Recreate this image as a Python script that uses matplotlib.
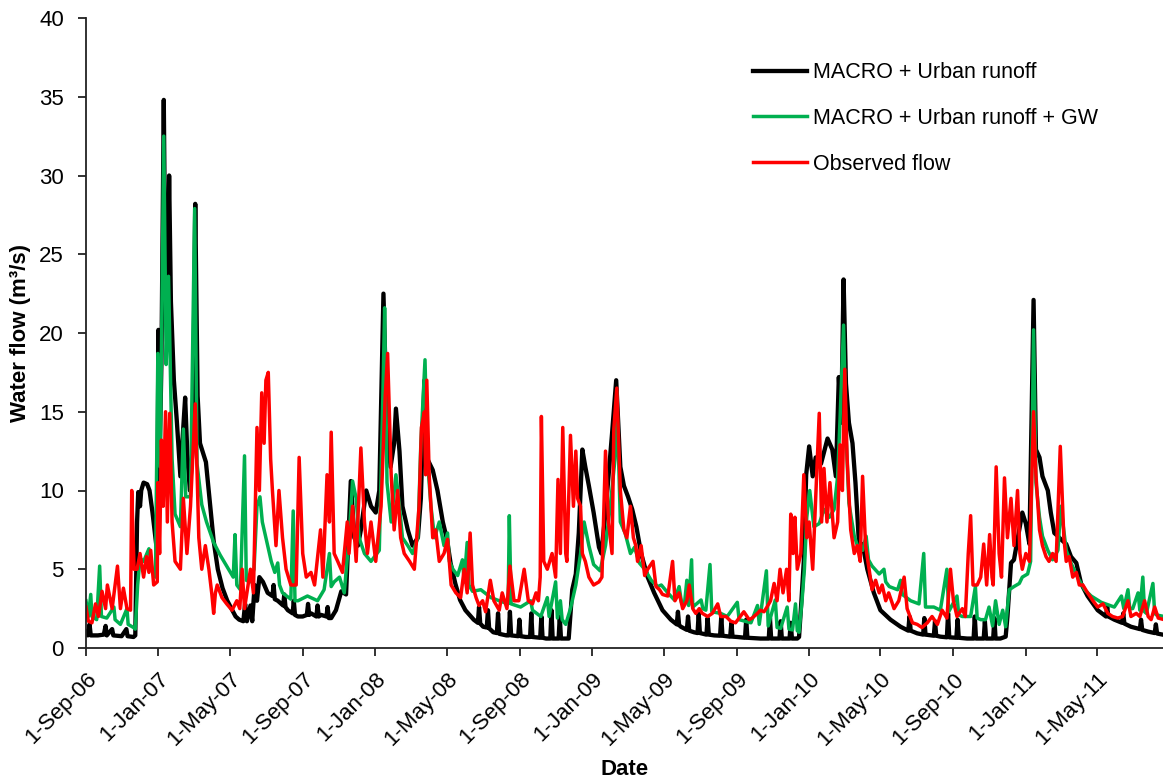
import numpy as np
import matplotlib
matplotlib.use("Agg")
import matplotlib.pyplot as plt
import matplotlib.dates as mdates
from matplotlib.ticker import FuncFormatter

plt.rcParams['font.family'] = ['Liberation Sans', 'DejaVu Sans']

START = np.datetime64('2006-09-01')
END_DAY = 1814  # last day shown, counted from 1-Sep-06

# (days since 1-Sep-06, flow m3/s)
macro_urban = [
    (0, 1.0), (3, 0.8), (6, 1.5), (8, 0.8), (20, 0.8), (30, 0.85), (33, 1.4), (35, 0.8), (44, 1.2),
    (46, 0.8), (60, 0.75), (68, 1.2), (70, 0.75), (80, 0.7), (83, 0.8), (86, 8.0), (88, 9.9), (91, 9.0),
    (93, 10.0), (97, 10.5), (103, 10.4), (107, 10.0), (112, 8.6), (117, 7.0), (120, 6.0), (122, 20.2),
    (124, 12.0), (127, 18.0), (131, 34.8), (134, 22.0), (137, 20.0), (140, 30.0), (143, 22.0), (148, 17.0),
    (153, 14.4), (159, 10.9), (163, 13.5), (167, 15.9), (171, 12.0), (175, 10.0), (180, 13.0), (184, 28.2),
    (188, 16.0), (192, 13.0), (197, 12.4), (202, 11.8), (208, 9.5), (215, 6.8), (222, 5.0), (230, 3.8),
    (238, 3.0), (245, 2.5), (252, 2.0), (258, 1.8), (265, 1.7), (268, 2.8), (271, 1.7), (277, 2.7),
    (280, 1.7), (284, 4.0), (288, 3.0), (292, 4.5), (298, 4.2), (306, 3.5), (314, 3.3), (316, 4.0),
    (318, 3.1), (323, 3.0), (332, 2.7), (334, 3.4), (336, 2.6), (340, 2.4), (348, 2.2), (350, 3.0),
    (352, 2.1), (357, 2.0), (365, 2.0), (372, 2.1), (374, 2.8), (376, 2.1), (379, 2.2), (388, 2.0),
    (390, 2.7), (392, 2.0), (396, 2.1), (405, 2.0), (407, 2.6), (409, 1.9), (413, 1.9), (421, 2.4),
    (430, 3.6), (438, 3.4), (446, 10.6), (452, 7.0), (458, 6.5), (463, 7.5), (472, 10.0), (480, 9.0),
    (488, 8.6), (494, 10.0), (501, 22.5), (507, 14.0), (513, 11.5), (519, 13.0), (522, 15.2), (528, 12.5),
    (533, 9.0), (542, 7.5), (550, 6.5), (559, 7.0), (564, 9.5), (570, 17.0), (575, 12.0), (584, 11.3),
    (592, 10.0), (601, 8.0), (608, 6.9), (614, 5.4), (622, 4.1), (630, 3.05), (639, 2.4), (653, 1.8),
    (660, 1.6), (662, 2.6), (664, 1.55), (669, 1.35), (675, 1.3), (677, 2.4), (679, 1.25), (686, 1.0),
    (692, 0.95), (694, 2.2), (696, 0.9), (708, 0.8), (712, 0.8), (714, 2.3), (716, 0.8), (728, 0.75),
    (730, 1.8), (732, 0.75), (741, 0.7), (748, 0.7), (750, 2.2), (752, 0.7), (765, 0.65), (767, 2.0),
    (769, 0.65), (775, 0.6), (782, 0.6), (784, 2.4), (786, 0.6), (796, 0.6), (798, 2.0), (800, 0.6),
    (808, 0.6), (813, 0.6), (819, 3.7), (825, 4.7), (830, 7.3), (836, 12.6), (841, 11.5), (847, 10.3),
    (855, 8.6), (864, 6.4), (868, 6.0), (875, 8.6), (886, 13.6), (893, 17.0), (900, 11.5), (906, 10.3),
    (913, 9.6), (920, 8.8), (927, 7.7), (935, 6.0), (946, 4.5), (957, 3.5), (971, 2.4), (985, 1.8),
    (995, 1.5), (997, 2.3), (999, 1.45), (1002, 1.35), (1012, 1.15), (1014, 2.0), (1016, 1.1), (1024, 1.0),
    (1030, 0.95), (1032, 2.2), (1034, 0.95), (1045, 0.85), (1047, 1.9), (1049, 0.85), (1058, 0.8),
    (1068, 0.78), (1070, 2.0), (1072, 0.78), (1085, 0.72), (1087, 1.6), (1089, 0.72), (1097, 0.7),
    (1110, 0.65), (1112, 1.8), (1114, 0.65), (1136, 0.6), (1150, 0.6), (1152, 1.9), (1154, 0.6),
    (1168, 0.6), (1170, 1.7), (1172, 0.6), (1185, 0.6), (1187, 1.6), (1189, 0.6), (1198, 0.6), (1201, 0.7),
    (1205, 3.0), (1209, 5.5), (1213, 11.0), (1218, 12.8), (1224, 10.9), (1229, 12.1), (1238, 11.7),
    (1249, 13.3), (1257, 12.6), (1263, 10.9), (1268, 17.2), (1272, 14.3), (1276, 23.4), (1280, 16.8),
    (1285, 14.3), (1291, 13.0), (1296, 10.5), (1302, 6.6), (1308, 6.6), (1316, 5.0), (1327, 3.5),
    (1338, 2.4), (1355, 1.8), (1372, 1.35), (1385, 1.1), (1387, 2.0), (1389, 1.1), (1400, 0.93),
    (1410, 0.85), (1412, 1.9), (1414, 0.85), (1428, 0.78), (1430, 1.7), (1432, 0.78), (1439, 0.72),
    (1450, 0.68), (1452, 2.2), (1454, 0.68), (1466, 0.65), (1468, 1.8), (1470, 0.65), (1484, 0.6),
    (1495, 0.6), (1497, 2.0), (1499, 0.6), (1512, 0.6), (1514, 1.7), (1516, 0.6), (1528, 0.6), (1530, 1.9),
    (1532, 0.6), (1540, 0.6), (1549, 0.72), (1552, 2.0), (1558, 5.4), (1563, 5.6), (1569, 6.9), (1577, 8.6),
    (1583, 7.9), (1589, 6.6), (1596, 22.1), (1600, 12.6), (1606, 12.1), (1611, 10.9), (1620, 10.0),
    (1625, 8.6), (1631, 7.3), (1637, 7.1), (1642, 6.9), (1651, 6.6), (1659, 5.8), (1668, 5.4), (1676, 4.1),
    (1687, 3.3), (1704, 2.4), (1718, 2.0), (1720, 2.6), (1722, 2.0), (1732, 1.8), (1745, 1.6), (1747, 2.2),
    (1749, 1.55), (1760, 1.35), (1775, 1.2), (1777, 1.8), (1779, 1.15), (1789, 1.04), (1800, 0.95),
    (1802, 1.5), (1804, 0.92), (1816, 0.83),
]

macro_urban_gw = [
    (0, 3.0), (4, 2.0), (8, 3.4), (10, 2.0), (18, 1.8), (23, 5.2), (26, 2.0), (35, 1.9), (47, 2.6),
    (49, 1.8), (58, 1.5), (69, 2.5), (71, 1.5), (80, 1.3), (83, 1.2), (87, 4.0), (91, 5.7), (97, 5.5),
    (106, 6.3), (111, 5.0), (117, 4.5), (121, 18.7), (125, 11.5), (131, 32.5), (135, 18.0), (139, 23.6),
    (145, 12.0), (150, 8.5), (159, 7.7), (164, 13.9), (168, 9.6), (176, 9.6), (183, 27.9), (187, 11.7),
    (195, 9.1), (203, 8.0), (215, 6.7), (226, 5.9), (237, 5.2), (248, 4.5), (251, 7.2), (254, 4.0),
    (260, 3.7), (267, 12.2), (270, 4.3), (276, 4.2), (283, 5.0), (288, 9.0), (293, 9.6), (297, 8.0),
    (303, 7.0), (312, 5.5), (318, 4.8), (323, 5.4), (326, 4.0), (331, 3.5), (345, 3.1), (349, 8.7),
    (352, 3.0), (357, 3.0), (373, 3.3), (390, 3.0), (401, 3.7), (410, 6.0), (413, 3.9), (418, 4.2),
    (427, 4.5), (435, 3.5), (443, 7.0), (449, 10.6), (455, 9.5), (460, 7.0), (469, 6.0), (480, 5.5),
    (494, 6.2), (500, 16.0), (503, 21.6), (507, 10.5), (514, 8.0), (522, 11.0), (528, 9.0), (533, 7.0),
    (542, 6.5), (550, 6.0), (559, 7.0), (564, 13.0), (571, 18.3), (575, 12.0), (581, 9.0), (587, 7.0),
    (595, 8.0), (603, 6.5), (609, 7.3), (612, 5.5), (618, 5.0), (626, 4.6), (634, 5.6), (637, 4.2),
    (642, 6.7), (645, 4.0), (651, 3.6), (665, 3.7), (682, 3.2), (696, 3.0), (711, 2.8), (713, 8.4),
    (716, 2.8), (732, 2.6), (749, 3.0), (752, 2.4), (766, 2.0), (777, 3.2), (780, 2.0), (791, 4.2),
    (794, 1.9), (799, 3.0), (802, 1.8), (808, 1.5), (816, 2.5), (825, 4.0), (833, 6.0), (839, 8.0),
    (847, 6.5), (855, 5.3), (866, 4.9), (875, 6.5), (883, 9.0), (891, 12.0), (894, 16.3), (900, 8.0),
    (908, 7.3), (917, 6.0), (924, 6.4), (932, 5.4), (941, 5.0), (952, 4.3), (963, 3.9), (969, 4.0),
    (980, 3.5), (991, 3.05), (999, 3.9), (1003, 2.9), (1008, 2.8), (1012, 4.3), (1015, 2.7), (1020, 5.6),
    (1022, 2.6), (1036, 3.05), (1039, 2.5), (1044, 2.4), (1051, 5.3), (1054, 2.3), (1069, 2.2),
    (1080, 2.0), (1097, 2.9), (1100, 1.8), (1120, 1.6), (1131, 2.7), (1134, 1.5), (1146, 4.9), (1149, 1.4),
    (1161, 3.05), (1164, 1.3), (1170, 1.25), (1181, 2.6), (1184, 1.2), (1190, 1.15), (1195, 2.8),
    (1198, 1.1), (1201, 1.0), (1206, 3.0), (1210, 5.0), (1214, 8.3), (1219, 10.0), (1226, 7.7),
    (1235, 7.9), (1243, 8.8), (1252, 8.3), (1260, 8.8), (1266, 10.9), (1270, 14.5), (1276, 20.5),
    (1280, 13.6), (1285, 9.2), (1294, 7.1), (1302, 6.2), (1308, 6.2), (1314, 7.1), (1318, 5.6),
    (1324, 5.2), (1336, 4.7), (1344, 5.0), (1347, 4.2), (1353, 3.9), (1367, 3.7), (1372, 4.3), (1375, 3.4),
    (1389, 3.0), (1403, 2.8), (1411, 6.0), (1414, 2.6), (1428, 2.6), (1439, 2.4), (1450, 5.0), (1453, 2.3),
    (1467, 3.3), (1470, 2.1), (1476, 2.0), (1490, 2.0), (1498, 3.9), (1501, 1.9), (1507, 1.8), (1515, 1.8),
    (1521, 2.6), (1527, 1.4), (1532, 3.0), (1538, 1.5), (1544, 2.4), (1549, 1.35), (1555, 3.7),
    (1563, 3.9), (1572, 4.1), (1577, 4.5), (1586, 4.7), (1591, 5.5), (1596, 20.2), (1600, 10.5),
    (1606, 8.3), (1611, 7.1), (1620, 6.2), (1628, 5.6), (1637, 6.2), (1642, 9.0), (1651, 6.2), (1659, 5.4),
    (1670, 4.5), (1682, 3.7), (1693, 3.3), (1710, 2.9), (1732, 2.6), (1744, 3.3), (1748, 2.5), (1755, 3.7),
    (1758, 2.5), (1763, 2.5), (1772, 3.5), (1775, 2.4), (1780, 4.5), (1783, 2.3), (1786, 2.2), (1797, 4.1),
    (1800, 2.2), (1803, 2.1), (1816, 2.0),
]

observed = [
    (0, 2.6), (4, 1.7), (10, 1.6), (16, 2.8), (21, 2.0), (27, 3.6), (33, 2.5), (36, 4.0), (44, 2.5),
    (53, 5.2), (58, 2.5), (63, 3.8), (69, 2.5), (75, 2.4), (77, 10.0), (81, 5.0), (86, 5.0), (91, 6.0),
    (97, 4.5), (102, 5.8), (106, 4.8), (109, 6.2), (114, 4.0), (120, 4.2), (121, 10.5), (124, 6.0),
    (127, 13.2), (130, 9.0), (134, 15.0), (137, 8.0), (141, 14.9), (145, 8.0), (150, 5.5), (159, 5.0),
    (164, 9.5), (170, 6.0), (176, 9.0), (184, 15.5), (190, 7.0), (195, 5.0), (201, 6.5), (207, 5.0),
    (212, 3.4), (215, 2.2), (218, 3.5), (221, 4.0), (229, 3.2), (237, 2.8), (246, 2.4), (254, 3.0),
    (259, 2.5), (263, 5.0), (267, 2.5), (271, 3.5), (277, 5.0), (282, 3.5), (288, 14.0), (292, 10.0),
    (296, 16.2), (300, 13.0), (303, 17.0), (307, 17.5), (311, 12.0), (314, 10.0), (320, 6.5), (325, 10.0),
    (331, 7.0), (337, 5.0), (345, 4.0), (354, 4.0), (359, 12.1), (365, 6.0), (371, 4.5), (379, 4.8),
    (385, 4.0), (395, 7.5), (399, 4.5), (406, 11.0), (410, 8.0), (413, 13.7), (418, 6.0), (424, 5.5),
    (432, 4.8), (440, 8.0), (443, 6.0), (449, 9.0), (455, 5.5), (463, 12.7), (469, 8.0), (474, 6.0),
    (480, 8.0), (488, 5.5), (497, 9.0), (504, 16.0), (508, 18.7), (514, 11.0), (519, 7.5), (525, 10.0),
    (530, 7.0), (536, 6.0), (545, 5.5), (553, 5.0), (561, 9.0), (565, 14.0), (570, 15.0), (572, 11.0),
    (574, 17.0), (578, 11.0), (584, 7.0), (589, 7.5), (595, 5.5), (603, 6.0), (609, 6.9), (615, 4.0),
    (623, 3.5), (631, 3.2), (637, 5.0), (642, 3.5), (647, 7.3), (651, 4.0), (657, 3.2), (662, 2.7),
    (668, 3.0), (673, 2.3), (681, 4.3), (687, 3.0), (696, 2.4), (701, 3.5), (709, 2.5), (714, 5.2),
    (721, 3.0), (729, 3.0), (738, 5.0), (745, 3.0), (752, 2.8), (758, 3.5), (762, 3.0), (765, 4.5),
    (767, 14.7), (771, 5.5), (777, 5.0), (785, 6.0), (791, 4.5), (795, 10.7), (799, 6.0), (803, 14.0),
    (808, 6.0), (810, 5.5), (816, 13.5), (821, 9.0), (825, 12.5), (828, 9.5), (833, 9.0), (836, 6.0),
    (841, 5.5), (847, 4.5), (855, 4.0), (864, 4.2), (869, 4.5), (875, 12.5), (880, 8.0), (886, 6.0),
    (889, 13.9), (894, 16.5), (900, 10.0), (906, 7.5), (911, 7.0), (917, 9.0), (922, 7.0), (926, 6.5),
    (929, 5.5), (935, 6.5), (941, 4.6), (946, 5.0), (955, 5.5), (960, 3.9), (966, 3.7), (971, 3.4),
    (980, 3.3), (988, 5.5), (992, 3.0), (999, 3.5), (1005, 2.5), (1012, 3.0), (1016, 4.0), (1022, 2.5),
    (1027, 2.2), (1033, 2.5), (1038, 2.2), (1047, 2.0), (1055, 2.2), (1064, 2.8), (1069, 2.0), (1078, 2.0),
    (1086, 1.7), (1094, 1.6), (1100, 1.9), (1108, 2.3), (1117, 1.8), (1122, 1.9), (1131, 2.2), (1136, 2.4),
    (1142, 2.3), (1147, 2.6), (1153, 3.0), (1159, 4.1), (1164, 3.0), (1169, 5.0), (1174, 3.5), (1180, 5.0),
    (1184, 3.0), (1187, 8.5), (1191, 6.0), (1194, 8.3), (1198, 5.0), (1204, 6.0), (1209, 11.0),
    (1214, 7.0), (1218, 8.0), (1224, 5.0), (1229, 9.5), (1235, 14.9), (1239, 8.0), (1243, 11.4),
    (1248, 8.0), (1253, 10.5), (1260, 7.0), (1266, 8.0), (1270, 12.9), (1274, 10.0), (1278, 17.7),
    (1282, 12.0), (1288, 7.5), (1294, 6.0), (1299, 6.5), (1304, 5.5), (1308, 10.9), (1313, 6.5),
    (1319, 5.0), (1324, 3.7), (1330, 4.3), (1336, 3.5), (1341, 4.0), (1347, 3.0), (1352, 3.5), (1361, 2.5),
    (1369, 3.0), (1378, 4.5), (1383, 2.5), (1392, 1.6), (1400, 1.5), (1408, 1.3), (1417, 1.6), (1425, 2.0),
    (1434, 1.5), (1442, 2.4), (1450, 1.9), (1456, 5.0), (1461, 3.0), (1467, 2.0), (1476, 2.5), (1481, 2.0),
    (1486, 6.0), (1490, 8.4), (1494, 4.0), (1501, 4.0), (1507, 4.5), (1512, 6.6), (1517, 4.0), (1522, 7.2),
    (1526, 4.5), (1528, 4.0), (1533, 11.5), (1538, 6.0), (1542, 4.5), (1547, 10.8), (1552, 7.0),
    (1558, 9.5), (1563, 6.5), (1569, 10.0), (1573, 6.0), (1577, 5.0), (1583, 6.0), (1589, 5.5),
    (1591, 8.0), (1596, 15.0), (1600, 11.0), (1606, 7.5), (1611, 6.5), (1617, 5.8), (1622, 5.5),
    (1628, 6.0), (1634, 5.5), (1641, 12.8), (1647, 7.0), (1651, 5.5), (1656, 5.8), (1662, 4.5), (1668, 4.8),
    (1673, 4.0), (1679, 4.0), (1687, 3.5), (1696, 3.0), (1704, 2.6), (1713, 2.8), (1721, 2.2), (1729, 2.0),
    (1738, 1.9), (1746, 2.0), (1755, 3.0), (1760, 2.0), (1769, 2.2), (1775, 2.0), (1783, 3.0), (1789, 2.0),
    (1794, 1.8), (1800, 2.6), (1806, 1.9), (1816, 1.8),
]

series = [
    (macro_urban, "MACRO + Urban runoff", "#000000", 3.1),
    (macro_urban_gw, "MACRO + Urban runoff + GW", "#00B050", 2.5),
    (observed, "Observed flow", "#FF0000", 2.5),
]


def to_dates(pts):
    days = np.array([p[0] for p in pts], dtype=int)
    vals = np.array([p[1] for p in pts], dtype=float)
    return START + days.astype('timedelta64[D]'), vals


fig = plt.figure(figsize=(11.63, 7.83), dpi=100)
ax = fig.add_axes([86 / 1163, 1 - 648 / 783, (1163 - 86) / 1163, 630 / 783])

for pts, label, color, lw in series:
    x, y = to_dates(pts)
    ax.plot(x, y, color=color, lw=lw, label=label)

ax.set_xlim(START, START + np.timedelta64(END_DAY, 'D'))
ax.set_ylim(0, 40)
ax.set_yticks(np.arange(0, 41, 5))

ax.xaxis.set_major_locator(mdates.MonthLocator(bymonth=[1, 5, 9], bymonthday=1))
ax.xaxis.set_major_formatter(FuncFormatter(
    lambda v, pos: f"{mdates.num2date(v).day}-{mdates.num2date(v).strftime('%b-%y')}"))
for lab in ax.get_xticklabels():
    lab.set_rotation(45)
    lab.set_ha('right')
    lab.set_rotation_mode('anchor')

for s in ['top', 'right']:
    ax.spines[s].set_visible(False)
for s in ['left', 'bottom']:
    ax.spines[s].set_linewidth(1.3)
    ax.spines[s].set_color('#222222')
ax.tick_params(axis='both', direction='out', length=6, width=1.3, labelsize=16,
               color='#222222')
ax.tick_params(axis='y', pad=10)
ax.tick_params(axis='x', pad=9)

ax.set_xlabel("Date", fontsize=16, fontweight='bold', labelpad=6)
ax.set_ylabel("Water flow (m³/s)", fontsize=16, fontweight='bold', labelpad=6)

ax.legend(loc='upper left', bbox_to_anchor=((753 - 86) / 1077, 0.93), frameon=False,
          fontsize=15.5, handlelength=2.5, handletextpad=0.3, labelspacing=1.15,
          borderpad=0, borderaxespad=0)

fig.savefig("out.png", dpi=100)
